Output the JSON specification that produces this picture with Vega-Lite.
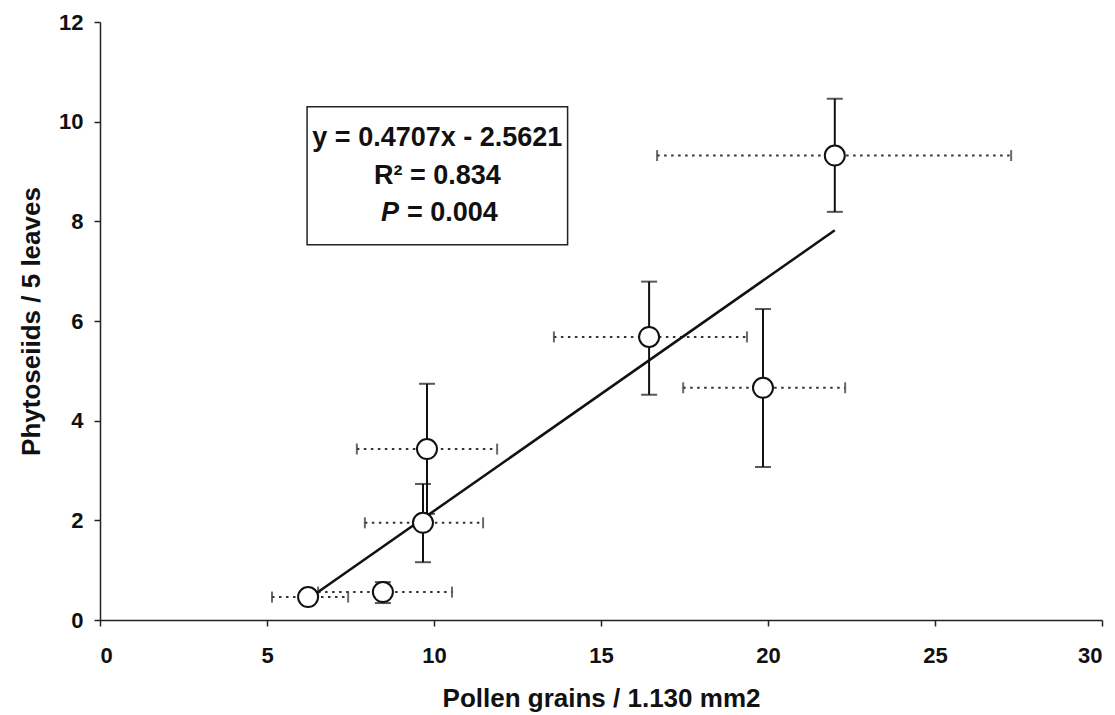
{
  "$schema": "https://vega.github.io/schema/vega-lite/v6.json",
  "autosize": "none",
  "width": 1002,
  "height": 598,
  "padding": {"left": 100, "top": 22, "right": 13, "bottom": 95},
  "background": "white",
  "config": {
    "view": {"stroke": null},
    "font": "Liberation Sans",
    "axis": {"grid": false, "domainColor": "#222", "domainWidth": 1.5, "tickColor": "#222", "tickWidth": 1.5, "tickSize": 6,
      "labelFont": "Liberation Sans", "labelFontWeight": "bold", "labelFontSize": 22, "labelColor": "#111",
      "titleFont": "Liberation Sans", "titleFontWeight": "bold", "titleFontSize": 26, "titleColor": "#111"}
  },
  "datasets": {
    "pts": [
      {"pollen": 6.23, "phyto": 0.46, "xlo": 5.15, "xhi": 7.43, "ylo": null, "yhi": null},
      {"pollen": 8.47, "phyto": 0.56, "xlo": 6.53, "xhi": 10.54, "ylo": 0.34, "yhi": 0.76},
      {"pollen": 9.67, "phyto": 1.95, "xlo": 7.93, "xhi": 11.47, "ylo": 1.16, "yhi": 2.73},
      {"pollen": 9.79, "phyto": 3.43, "xlo": 7.69, "xhi": 11.89, "ylo": 2.13, "yhi": 4.74},
      {"pollen": 16.44, "phyto": 5.68, "xlo": 13.59, "xhi": 19.37, "ylo": 4.52, "yhi": 6.79},
      {"pollen": 19.85, "phyto": 4.66, "xlo": 17.46, "xhi": 22.31, "ylo": 3.07, "yhi": 6.24},
      {"pollen": 22.0, "phyto": 9.32, "xlo": 16.68, "xhi": 27.28, "ylo": 8.19, "yhi": 10.46}
    ],
    "fit": [
      {"pollen": 6.23, "phyto": 0.42},
      {"pollen": 22.0, "phyto": 7.82}
    ],
    "box": [
      {"x1": 6.2, "x2": 14.0, "y1": 7.53, "y2": 10.3}
    ],
    "lines": [
      {"tx": 10.1, "ty": 9.68, "label": "y = 0.4707x - 2.5621"},
      {"tx": 10.1, "ty": 8.9, "label": "R² = 0.834"}
    ],
    "pline": [
      {"tx": 8.95, "ty": 8.17, "p": "P", "rest": "= 0.004"}
    ]
  },
  "layer": [
    {
      "data": {"name": "box"},
      "mark": {"type": "rect", "fill": "white", "stroke": "#222", "strokeWidth": 1.5},
      "encoding": {
        "x": {"field": "x1", "type": "quantitative", "scale": {"domain": [0, 30], "nice": false},
          "axis": {"title": "Pollen grains / 1.130 mm2", "values": [0, 5, 10, 15, 20, 25, 30], "labelPadding": 19, "titlePadding": 19}},
        "x2": {"field": "x2"},
        "y": {"field": "y1", "type": "quantitative", "scale": {"domain": [0, 12], "nice": false},
          "axis": {"title": "Phytoseiids / 5 leaves", "values": [0, 2, 4, 6, 8, 10, 12], "labelPadding": 11, "titlePadding": 14}},
        "y2": {"field": "y2"}
      }
    },
    {
      "data": {"name": "lines"},
      "mark": {"type": "text", "fontSize": 27, "fontWeight": "bold", "color": "#111", "align": "center", "baseline": "middle"},
      "encoding": {
        "x": {"field": "tx", "type": "quantitative"},
        "y": {"field": "ty", "type": "quantitative"},
        "text": {"field": "label"}
      }
    },
    {
      "data": {"name": "pline"},
      "mark": {"type": "text", "fontSize": 27, "fontWeight": "bold", "fontStyle": "italic", "color": "#111", "align": "right", "baseline": "middle"},
      "encoding": {
        "x": {"field": "tx", "type": "quantitative"},
        "y": {"field": "ty", "type": "quantitative"},
        "text": {"field": "p"}
      }
    },
    {
      "data": {"name": "pline"},
      "mark": {"type": "text", "fontSize": 27, "fontWeight": "bold", "color": "#111", "align": "left", "baseline": "middle", "dx": 8},
      "encoding": {
        "x": {"field": "tx", "type": "quantitative"},
        "y": {"field": "ty", "type": "quantitative"},
        "text": {"field": "rest"}
      }
    },
    {
      "data": {"name": "pts"},
      "mark": {"type": "rule", "color": "#333", "strokeWidth": 2, "strokeDash": [2.5, 4.5]},
      "encoding": {
        "x": {"field": "xlo", "type": "quantitative"},
        "x2": {"field": "xhi"},
        "y": {"field": "phyto", "type": "quantitative"}
      }
    },
    {
      "data": {"name": "pts"},
      "mark": {"type": "tick", "orient": "vertical", "color": "#444", "size": 11, "thickness": 2, "opacity": 0.8},
      "encoding": {
        "x": {"field": "xlo", "type": "quantitative"},
        "y": {"field": "phyto", "type": "quantitative"}
      }
    },
    {
      "data": {"name": "pts"},
      "mark": {"type": "tick", "orient": "vertical", "color": "#444", "size": 11, "thickness": 2, "opacity": 0.8},
      "encoding": {
        "x": {"field": "xhi", "type": "quantitative"},
        "y": {"field": "phyto", "type": "quantitative"}
      }
    },
    {
      "data": {"name": "pts"},
      "mark": {"type": "rule", "color": "#111", "strokeWidth": 2},
      "encoding": {
        "x": {"field": "pollen", "type": "quantitative"},
        "y": {"field": "ylo", "type": "quantitative"},
        "y2": {"field": "yhi"}
      }
    },
    {
      "data": {"name": "pts"},
      "mark": {"type": "tick", "orient": "horizontal", "color": "#111", "size": 16, "thickness": 2},
      "encoding": {
        "x": {"field": "pollen", "type": "quantitative"},
        "y": {"field": "ylo", "type": "quantitative"}
      }
    },
    {
      "data": {"name": "pts"},
      "mark": {"type": "tick", "orient": "horizontal", "color": "#111", "size": 16, "thickness": 2},
      "encoding": {
        "x": {"field": "pollen", "type": "quantitative"},
        "y": {"field": "yhi", "type": "quantitative"}
      }
    },
    {
      "data": {"name": "fit"},
      "mark": {"type": "line", "color": "#111", "strokeWidth": 2.5},
      "encoding": {
        "x": {"field": "pollen", "type": "quantitative"},
        "y": {"field": "phyto", "type": "quantitative"}
      }
    },
    {
      "data": {"name": "pts"},
      "mark": {"type": "point", "shape": "circle", "filled": false, "fill": "white", "fillOpacity": 1, "stroke": "#111", "strokeWidth": 2, "size": 400, "opacity": 1},
      "encoding": {
        "x": {"field": "pollen", "type": "quantitative"},
        "y": {"field": "phyto", "type": "quantitative"}
      }
    }
  ]
}
